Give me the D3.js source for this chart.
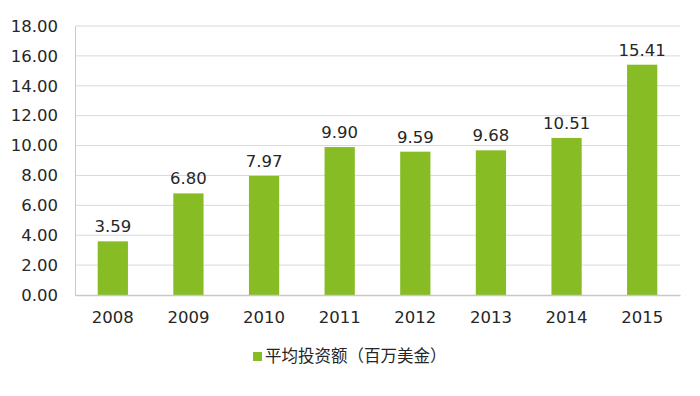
<!DOCTYPE html>
<html>
<head>
<meta charset="utf-8">
<script src="https://cdn.jsdelivr.net/npm/d3@7"></script>
<style>
  body { margin: 0; background: #fff; }
  text { font-family: "DejaVu Sans", Verdana, sans-serif; fill: #262626; }
</style>
</head>
<body>
<script>
// data
const years = ['2008', '2009', '2010', '2011', '2012', '2013', '2014', '2015'];
const avgInvest = [3.59, 6.80, 7.97, 9.90, 9.59, 9.68, 10.51, 15.41];
const yTicks = [0, 2, 4, 6, 8, 10, 12, 14, 16, 18];
const legendLabel = '平均投资额（百万美金）';

const width = 700;
const height = 396;
const margin = { top: 26, right: 20, bottom: 101, left: 75 };
const barColor = '#88BC24';

const svg = d3.select('body').append('svg')
    .attr('width', width)
    .attr('height', height);

const x = d3.scaleBand()
    .domain(years)
    .range([margin.left, width - margin.right])
    .paddingInner(0.6)
    .paddingOuter(0.3);

const y = d3.scaleLinear()
    .domain([0, 18])
    .range([height - margin.bottom, margin.top]);

// gridlines
svg.append('g')
  .selectAll('line')
  .data(yTicks.slice(1))
  .join('line')
    .attr('x1', margin.left)
    .attr('x2', width - margin.right)
    .attr('y1', d => y(d))
    .attr('y2', d => y(d))
    .style('stroke', '#d9d9d9')
    .style('stroke-width', 1);

// y axis
const yAxis = svg.append('g')
    .attr('transform', `translate(${margin.left},0)`)
    .call(d3.axisLeft(y).tickValues(yTicks).tickFormat(d3.format('.2f')).tickSize(0).tickPadding(17));
yAxis.select('.domain').style('stroke', '#c8c8c8');
yAxis.selectAll('text').style('font-size', '16.5px').attr('font-family', null);

// bars
svg.append('g')
  .selectAll('rect')
  .data(avgInvest)
  .join('rect')
    .attr('x', (d, i) => x(years[i]))
    .attr('y', d => y(d))
    .attr('width', x.bandwidth())
    .attr('height', d => y(0) - y(d))
    .style('fill', barColor);

// value labels
svg.append('g')
  .selectAll('text')
  .data(avgInvest)
  .join('text')
    .attr('x', (d, i) => x(years[i]) + x.bandwidth() / 2)
    .attr('y', d => y(d) - 9)
    .attr('text-anchor', 'middle')
    .style('font-size', '16.5px')
    .text(d => d.toFixed(2));

// x axis
const xAxis = svg.append('g')
    .attr('transform', `translate(0,${y(0)})`)
    .call(d3.axisBottom(x).tickSize(0).tickPadding(16));
xAxis.select('.domain').style('stroke', '#c8c8c8').style('stroke-width', 1.5);
xAxis.selectAll('text').style('font-size', '16.5px').attr('font-family', null);

// legend
const legend = svg.append('g')
    .attr('transform', 'translate(253,352)');
legend.append('rect')
    .attr('width', 9)
    .attr('height', 9)
    .style('fill', barColor);
legend.append('text')
    .attr('x', 12)
    .attr('y', 4.5)
    .attr('dy', '0.36em')
    .style('font-family', '"Noto Sans CJK SC", sans-serif')
    .style('font-size', '16.5px')
    .text(legendLabel);
</script>
</body>
</html>
